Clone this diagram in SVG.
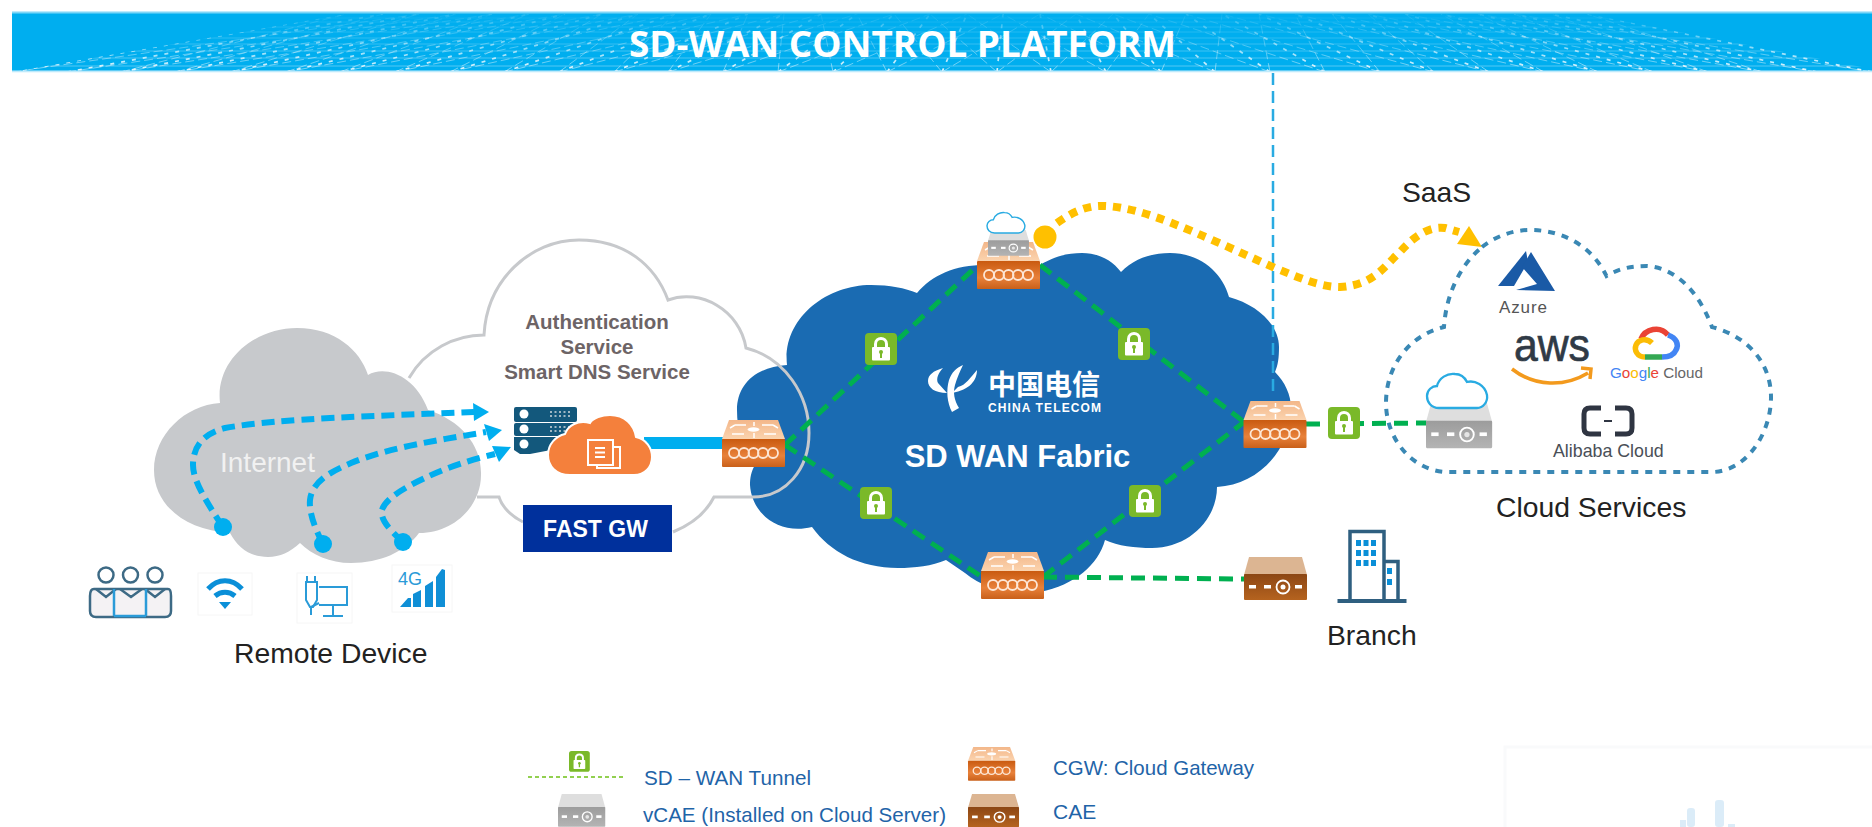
<svg xmlns="http://www.w3.org/2000/svg" width="1872" height="827" viewBox="0 0 1872 827">
<style>
.sans{font-family:"Liberation Sans",Arial,sans-serif}
.label{font-family:"Liberation Sans",Arial,sans-serif;font-size:28.300px;fill:#222}
.auth{font-family:"Liberation Sans",Arial,sans-serif;font-size:20.500px;font-weight:700;fill:#6d6466;text-anchor:middle}
.legend{font-family:"Liberation Sans",Arial,sans-serif;font-size:21px;fill:#1f64a8}
.tunnel{fill:none;stroke:#00b050;stroke-width:5;stroke-dasharray:14 8}
.remote{fill:none;stroke:#00aeef;stroke-width:6;stroke-dasharray:13 7}
.head{fill:#00aeef}
.faint{fill:#fff;stroke:#f6f6f6;stroke-width:1}
.win{fill:#0a8fd8}
</style>
<defs>
<linearGradient id="gridFade" gradientUnits="userSpaceOnUse" x1="0" y1="14" x2="0" y2="72">
<stop offset="0" stop-color="#fff" stop-opacity=".1"/><stop offset="1" stop-color="#fff" stop-opacity=".9"/>
</linearGradient>
<clipPath id="gridClip"><polygon points="12,72 346,14 1587,14 1888,72"/></clipPath>
<linearGradient id="cgwTop" x1="0" y1="0" x2="0" y2="1"><stop offset="0" stop-color="#f3b78a"/><stop offset="1" stop-color="#fbd3ae"/></linearGradient>
<linearGradient id="cgwFront" x1="0" y1="0" x2="0" y2="1"><stop offset="0" stop-color="#c95a10"/><stop offset=".6" stop-color="#e8813a"/><stop offset="1" stop-color="#c9601a"/></linearGradient>
<linearGradient id="caeFront" x1="0" y1="0" x2="0" y2="1"><stop offset="0" stop-color="#8c4715"/><stop offset="1" stop-color="#b5631f"/></linearGradient>
<linearGradient id="vcaeFront" x1="0" y1="0" x2="0" y2="1"><stop offset="0" stop-color="#9c9c9c"/><stop offset="1" stop-color="#b4b4b4"/></linearGradient>
<g id="lock">
<rect width="32" height="32" rx="4" fill="#7ab929"/>
<path d="M10.500,15V11C10.500,3.500 21.500,3.500 21.500,11V15" fill="none" stroke="#fff" stroke-width="3"/>
<rect x="7" y="14" width="18" height="13.500" rx="1" fill="#fff"/>
<circle cx="16" cy="19" r="2" fill="#7ab929"/><rect x="15" y="19" width="2" height="6" fill="#7ab929"/>
</g>
<g id="cgw">
<polygon points="7,0 56,0 63,19 0,19" fill="url(#cgwTop)"/>
<g stroke="#fff" stroke-width="1.500" fill="none">
<path d="M13,5H24M40,5H51M10,14H22M42,14H54M32,2V6M32,13V18"/>
<path d="M8,8L13,5M56,8L51,5"/>
</g>
<ellipse cx="31.500" cy="9.500" rx="6" ry="2.200" fill="#fff"/>
<rect y="19" width="63" height="28" rx="1" fill="url(#cgwFront)"/>
<g fill="none" stroke="#fde7d6" stroke-width="1.800">
<circle cx="12" cy="33" r="5"/><circle cx="22" cy="33" r="5"/><circle cx="31.500" cy="33" r="5"/><circle cx="41" cy="33" r="5"/><circle cx="51" cy="33" r="5"/>
</g>
</g>
<g id="cae">
<polygon points="5,0 58,0 63,18 0,18" fill="#dcb592"/>
<rect y="17" width="63" height="26" rx="1" fill="url(#caeFront)"/>
<g fill="#fff"><rect x="5" y="28" width="7" height="3.500"/><rect x="20" y="28" width="7" height="3.500"/><rect x="51" y="28" width="7" height="3.500"/><circle cx="39" cy="30" r="2.500"/></g>
<circle cx="39" cy="30" r="6.500" fill="none" stroke="#fff" stroke-width="1.800"/>
</g>
<g id="vcae">
<polygon points="5,0 58,0 63,18 0,18" fill="#dedede"/>
<rect y="17" width="63" height="26" rx="1" fill="url(#vcaeFront)"/>
<g fill="#fff"><rect x="5" y="28" width="7" height="3.500"/><rect x="20" y="28" width="7" height="3.500"/><rect x="51" y="28" width="7" height="3.500"/></g>
<circle cx="39" cy="30" r="6.500" fill="none" stroke="#fff" stroke-width="1.800"/>
<circle cx="39" cy="30" r="2.500" fill="#fff" fill-opacity=".7"/>
</g>
<path id="smallCloud" d="M12,35C4,35 0,29 0,23C0,17 5,13 10,13C12,5 20,0 28,1C34,1 38,5 40,9C48,7 58,12 60,22C61,29 56,35 50,35Z" fill="#fff" stroke="#29abe2" stroke-width="2.300"/>
</defs>

<g id="header">
<rect x="12" y="12" width="1860" height="60" fill="#00aeef"/>
<rect x="12" y="11.500" width="1860" height="2" fill="#7fd6f7"/>
<g clip-path="url(#gridClip)" fill="none" stroke="url(#gridFade)">
<path stroke-width="1.700" stroke-dasharray="4 7" d="M12,72L346,14M67,72L383,14M121,72L419,14M176,72L456,14M231,72L492,14M286,72L529,14M340,72L565,14M395,72L602,14M450,72L638,14M504,72L675,14M559,72L711,14M614,72L748,14M668,72L784,14M723,72L821,14M778,72L857,14M833,72L894,14M887,72L930,14M942,72L967,14M997,72L1003,14M1051,72L1040,14M1106,72L1076,14M1161,72L1113,14M1215,72L1149,14M1270,72L1186,14M1325,72L1222,14M1380,72L1259,14M1434,72L1295,14M1489,72L1332,14M1544,72L1368,14M1598,72L1405,14M1653,72L1441,14M1708,72L1478,14M1762,72L1514,14M1817,72L1551,14M1872,72L1587,14"/>
<path stroke-width="1" stroke-opacity=".55" stroke-dasharray="9 4" d="M12,72L419,14M67,72L456,14M121,72L492,14M176,72L529,14M231,72L565,14M286,72L602,14M340,72L638,14M395,72L675,14M450,72L711,14M504,72L748,14M559,72L784,14M614,72L821,14M668,72L857,14M723,72L894,14M778,72L930,14M833,72L967,14M887,72L1003,14M942,72L1040,14M997,72L1076,14M1051,72L1113,14M1106,72L1149,14M1161,72L1186,14M1215,72L1222,14M1270,72L1259,14M1325,72L1295,14M1380,72L1332,14M1434,72L1368,14M1489,72L1405,14M1544,72L1441,14M1598,72L1478,14M1653,72L1514,14M1708,72L1551,14M1762,72L1587,14"/>
<path stroke-width="1" stroke-opacity=".55" stroke-dasharray="9 4" d="M121,72L346,14M176,72L383,14M231,72L419,14M286,72L456,14M340,72L492,14M395,72L529,14M450,72L565,14M504,72L602,14M559,72L638,14M614,72L675,14M668,72L711,14M723,72L748,14M778,72L784,14M833,72L821,14M887,72L857,14M942,72L894,14M997,72L930,14M1051,72L967,14M1106,72L1003,14M1161,72L1040,14M1215,72L1076,14M1270,72L1113,14M1325,72L1149,14M1380,72L1186,14M1434,72L1222,14M1489,72L1259,14M1544,72L1295,14M1598,72L1332,14M1653,72L1368,14M1708,72L1405,14M1762,72L1441,14M1817,72L1478,14M1872,72L1514,14"/>
<path stroke-width="1" stroke-opacity=".4" d="M0,66H1872M0,58H1872M0,51H1872M0,44H1872M0,38H1872M0,32H1872M0,27H1872M0,22H1872M0,18H1872"/>
</g>
<rect x="12" y="70.500" width="1860" height="1.800" fill="#bfeafb"/>
<text x="629" y="57" font-family="'Open Sans','Noto Sans',sans-serif" font-size="35" font-weight="700" fill="#fff" textLength="547" lengthAdjust="spacingAndGlyphs">SD-WAN CONTROL PLATFORM</text>
</g>

<g id="fabric-cloud">
<path d="M917,293C932,275 955,265 985,265L1040,265C1055,256 1068,253 1082,253C1098,253 1112,260 1121,272C1135,258 1152,253 1170,253C1200,253 1222,272 1229,297C1258,305 1279,325 1279,347C1279,358 1278,365 1275,372C1285,382 1291,395 1291,408C1291,450 1258,485 1217,487C1217,520 1188,548 1152,548C1135,548 1118,546 1105,540C1098,565 1075,585 1040,592C1015,595 985,590 965,573L946,560C932,566 915,568 898,568C860,568 830,552 812,527C780,535 752,515 750,485C750,478 751,472 755,465C742,450 737,430 737,410C737,385 755,367 787,365C782,320 825,285 871,285C890,285 905,288 917,293Z" fill="#1a6bb2"/>
<g id="telecom-mark" fill="#fff">
<path d="M943,368C933,371 928,375 928,381C928,388 935,393 947,393L938,383C936,379 938,373 943,368Z"/>
<path d="M977,370C977,380 970,390 952,393L958,387C966,385 970,378 977,370Z"/>
<path d="M963,365C956,368 952,372 949,380C946,390 947,403 952,412L959,408C954,400 953,392 955,385C957,378 960,371 963,365Z"/>
</g>
<text x="988" y="395" font-family="'Noto Sans CJK SC',sans-serif" font-size="28" font-weight="700" fill="#fff" textLength="112" lengthAdjust="spacing">中国电信</text>
<text x="988" y="412" class="sans" font-size="12" font-weight="700" fill="#fff" textLength="113" lengthAdjust="spacing">CHINA TELECOM</text>
<text x="1017.500" y="467" class="sans" font-size="31" font-weight="700" fill="#fff" text-anchor="middle">SD WAN Fabric</text>
</g>

<g id="internet-cloud">
<path d="M220,403C215,360 255,328 297,328C335,328 360,350 368,375C385,365 415,375 428,410C460,420 482,445 481,475C481,505 455,533 419,533C405,552 380,563 351,563C330,563 312,555 300,543C290,552 280,557 268,557C250,557 238,548 230,533C185,530 154,505 154,470C154,435 185,405 220,403Z" fill="#c7c9cc"/>
<text x="220" y="472" class="sans" font-size="28" fill="#f1f1f1">Internet</text>
</g>

<g id="fast-gw-cloud">
<path d="M409,378C425,350 455,335 484,335C487,280 530,240 579,240C625,240 655,265 668,300C700,288 740,310 746,348C785,358 809,395 809,433C809,470 785,497 753,497L714,497C705,515 690,525 673,532M523,522C510,515 502,507 499,497L477,497" fill="none" stroke="#c7c9cc" stroke-width="3"/>
<text x="597" y="329" class="auth">Authentication</text>
<text x="597" y="354" class="auth">Service</text>
<text x="597" y="379" class="auth">Smart DNS Service</text>
<rect x="523" y="505" width="149" height="47" fill="#00309c"/>
<text x="595.500" y="537" class="sans" font-size="23" font-weight="700" fill="#fff" text-anchor="middle">FAST GW</text>
</g>

<g id="connectors">
<rect x="644" y="437" width="80" height="12" fill="#00aeef"/>
<path d="M1273,73V393" fill="none" stroke="#29abe2" stroke-width="2.500" stroke-dasharray="12 6"/>
<path class="tunnel" d="M785,445L978,265"/>
<path class="tunnel" d="M1040,265L1244,422"/>
<path class="tunnel" d="M785,445L982,577"/>
<path class="tunnel" d="M1043,577L1244,422"/>
<path class="tunnel" d="M1043,577L1244,579"/>
<path class="tunnel" d="M1306,424L1427,423"/>
<path class="remote" d="M223,527C205,500 193,480 193,465C193,445 205,433 225,428C280,418 380,416 474,412"/>
<polygon class="head" points="489,412 473,403 474,421"/>
<circle class="head" cx="223" cy="527" r="9"/>
<path class="remote" d="M323,544C313,525 309,510 310,500C312,480 335,470 351,463C390,447 440,440 486,432"/>
<polygon class="head" points="502,430 484,424 489,441"/>
<circle class="head" cx="323" cy="544" r="9"/>
<path class="remote" d="M403,542C390,530 380,520 382,510C386,497 410,485 425,478C445,468 470,460 495,454"/>
<polygon class="head" points="511,447 492,446 499,462"/>
<circle class="head" cx="403" cy="542" r="9"/>
<circle cx="1045" cy="237" r="11.500" fill="#ffc000"/>
<path d="M1057,223C1075,210 1090,205 1105,206C1145,208 1190,230 1275,268C1300,278 1320,287 1340,287C1375,285 1385,265 1400,252C1415,235 1430,226 1445,228L1459,232" fill="none" stroke="#ffc000" stroke-width="8" stroke-dasharray="8 7"/>
<polygon points="1469,226 1482,247 1457,244" fill="#ffc000"/>
</g>

<g id="fast-gw">
<g fill="#13587c">
<rect x="514" y="407" width="63" height="15" rx="2"/><rect x="514" y="423" width="63" height="13" rx="2"/>
<path d="M514,437H577V445L530,454H520L514,450Z"/>
</g>
<g fill="#fff"><circle cx="524" cy="414" r="4.500"/><circle cx="524" cy="429" r="4.500"/><circle cx="524" cy="444" r="4.500"/></g>
<path d="M550,412H572M550,416H572M550,427H572M550,431H572" stroke="#cfd8dc" stroke-width="1.500" stroke-dasharray="2 2.500"/>
<path d="M570,475C556,475 548,466 548,455C548,444 556,436 565,434C568,425 578,420 590,423C593,418 602,415 610,415C625,415 634,425 636,437C646,439 652,448 652,457C652,467 645,475 634,475Z" fill="#f4803c" stroke="#fff" stroke-width="2"/>
<path d="M595,447H620V468H597V465" fill="none" stroke="#fff" stroke-width="2"/>
<rect x="588" y="440" width="25" height="25" fill="#f4803c" stroke="#fff" stroke-width="2"/>
<path d="M595,448H605M595,452.500H605M595,457H605" stroke="#fff" stroke-width="2"/>
</g>

<use id="cgw-left" href="#cgw" x="722" y="420"/>
<g id="cgw-top"><use href="#cgw" x="977" y="242"/></g>
<g id="vcae-top">
<use href="#vcae" transform="translate(988,230) scale(.65,.6)"/>
<use href="#smallCloud" transform="translate(987,212) scale(.63,.6)"/>
</g>
<use id="cgw-right" href="#cgw" x="1243.500" y="401"/>
<use id="cgw-bottom" href="#cgw" x="981" y="552"/>
<use id="cae-branch" href="#cae" x="1244" y="557"/>

<g id="locks">
<use href="#lock" x="865" y="333"/>
<use href="#lock" x="1118" y="328"/>
<use href="#lock" x="860" y="487"/>
<use href="#lock" x="1129" y="485"/>
<use href="#lock" x="1328" y="407"/>
</g>

<g id="branch">
<path d="M1350,600V531.500H1384V600M1384,561.500H1398V600" fill="#fff" stroke="#2f5f80" stroke-width="3.500"/>
<rect x="1337.500" y="599" width="69" height="4" fill="#2f5f80"/>
<g class="win">
<rect x="1356" y="540" width="5" height="6"/><rect x="1363.500" y="540" width="5" height="6"/><rect x="1371" y="540" width="5" height="6"/>
<rect x="1356" y="550" width="5" height="6"/><rect x="1363.500" y="550" width="5" height="6"/><rect x="1371" y="550" width="5" height="6"/>
<rect x="1356" y="560" width="5" height="6"/><rect x="1363.500" y="560" width="5" height="6"/><rect x="1371" y="560" width="5" height="6"/>
<rect x="1387" y="568" width="5" height="6"/><rect x="1387" y="579" width="5" height="6"/>
</g>
<text x="1327" y="645" class="label">Branch</text>
</g>

<g id="cloud-services">
<path d="M1482,247C1497,235 1515,230 1530,230C1565,230 1593,248 1606.500,276C1620,268 1632,266 1647,266C1675,268 1698,290 1712,327C1750,337 1771,365 1771,397C1771,435 1745,472 1712,472L1446,472C1410,470 1386,437 1386,403C1386,365 1410,335 1444,327C1446,295 1460,265 1482,247Z" fill="none" stroke="#3a88b4" stroke-width="4" stroke-dasharray="7 7"/>
<g id="vcae-cloud">
<use href="#vcae" transform="translate(1426,403) scale(1.05)"/>
<use href="#smallCloud" x="1427" y="373"/>
</g>
<g id="azure">
<path d="M1526,251L1498,286L1514,286L1528,262Z" fill="#1a5aa6"/>
<path d="M1531,252L1555,291L1516,290L1537,284L1522,267Z" fill="#1a5aa6"/>
<text x="1499" y="313" class="sans" font-size="17" fill="#555" textLength="48" lengthAdjust="spacing">Azure</text>
</g>
<g id="aws">
<text x="1514" y="361" class="sans" font-size="47" fill="#2f3a46" stroke="#2f3a46" stroke-width=".7" textLength="76" lengthAdjust="spacingAndGlyphs">aws</text>
<path d="M1512,369C1535,387 1565,387 1588,373M1581,368L1591,369L1590,379" fill="none" stroke="#f39a1d" stroke-width="3.500"/>
</g>
<g id="google-cloud" fill="none" stroke-width="5.500">
<path d="M1641,339C1645,329 1660,325 1668,335" stroke="#ea4335"/>
<path d="M1668,335C1677,338 1679,345 1676,350C1674,355 1669,357 1662,357" stroke="#4285f4"/>
<path d="M1662,357L1645,357" stroke="#34a853"/>
<path d="M1645,357C1637,357 1634,350 1636,345C1638,340 1646,337 1652,343" stroke="#fbbc05"/>
<text x="1610" y="378" class="sans" font-size="15.200" stroke="none" fill="#666"><tspan fill="#4285f4">G</tspan><tspan fill="#ea4335">o</tspan><tspan fill="#fbbc05">o</tspan><tspan fill="#4285f4">g</tspan><tspan fill="#34a853">l</tspan><tspan fill="#ea4335">e</tspan> Cloud</text>
</g>
<g id="alibaba">
<path d="M1601,408H1590Q1584,408 1584,414V428Q1584,434 1590,434H1601M1615,408H1626Q1632,408 1632,414V428Q1632,434 1626,434H1615" fill="none" stroke="#2f3542" stroke-width="5"/>
<path d="M1604,421H1612" stroke="#2f3542" stroke-width="2"/>
<text x="1553" y="457" class="sans" font-size="17.800" fill="#4a4f57">Alibaba Cloud</text>
</g>
<text x="1496" y="517" class="label">Cloud Services</text>
<text x="1402" y="202" class="label">SaaS</text>
</g>

<g id="remote-devices">
<g id="people" stroke="#3d6a85" stroke-width="2.500">
<path d="M94,589H168Q171,589 171,596V611Q171,617 165,617H96Q90,617 90,611V596Q90,589 94,589Z" fill="#f4f2f4"/>
<path d="M96,589L106,597L116,589M120,589L131,597L142,589M145,589L155,597L165,589" fill="none"/>
<path d="M114,589V616M146,589V616" fill="none" stroke="#2a9bd8"/>
<path d="M114,616H146" stroke="#2a9bd8"/>
<circle cx="106" cy="575" r="7.500" fill="#fff"/><circle cx="130.500" cy="575" r="7.500" fill="#fff"/><circle cx="155" cy="575" r="7.500" fill="#fff"/>
</g>
<g id="wifi">
<rect class="faint" x="198" y="573" width="54" height="42"/>
<path d="M208,589C218,578 232,578 242,589M215,596C221,591 229,591 235,596" fill="none" stroke="#0a8fd8" stroke-width="5"/>
<polygon points="219,602 231,602 225,609" fill="#0a8fd8"/>
</g>
<g id="pc">
<rect class="faint" x="297" y="573" width="55" height="50"/>
<path d="M319,587H347V605H319M333,605V616M323,616H343" fill="none" stroke="#2a9bd8" stroke-width="2"/>
<path d="M307,576V582M315,576V582M306,582H317V600L313,607H310L306,600ZM311,607V615" fill="none" stroke="#2a9bd8" stroke-width="2"/>
<path d="M311,607L319,603" stroke="#2a9bd8" stroke-width="2"/>
</g>
<g id="cell">
<rect class="faint" x="392" y="565" width="60" height="47"/>
<text x="398" y="585" class="sans" font-size="18" fill="#2a9bd8" textLength="24" lengthAdjust="spacing">4G</text>
<path d="M400,607L408,598H411V607ZM413,607V594L421,590V607ZM425,607V586L433,581V607ZM436,607V577L442,569L445,570V607Z" fill="#0f8fd6"/>
</g>
<text x="234" y="663" class="label">Remote Device</text>
</g>

<g id="legend">
<use href="#lock" transform="translate(569,751) scale(.65)"/>
<path d="M528,777H625" fill="none" stroke="#92d050" stroke-width="2" stroke-dasharray="4 3"/>
<text x="644" y="785" class="legend" textLength="167" lengthAdjust="spacingAndGlyphs">SD – WAN Tunnel</text>
<use href="#vcae" transform="translate(558,794) scale(.75,.76)"/>
<text x="643" y="822" class="legend" textLength="303" lengthAdjust="spacingAndGlyphs">vCAE (Installed on Cloud Server)</text>
<use href="#cgw" transform="translate(968,747) scale(.75,.72)"/>
<text x="1053" y="775" class="legend" textLength="201" lengthAdjust="spacingAndGlyphs">CGW: Cloud Gateway</text>
<use href="#cae" transform="translate(968,794) scale(.81,.77)"/>
<text x="1053" y="819" class="legend">CAE</text>
</g>

<g id="watermark">
<path d="M1872,747H1505V827" fill="none" stroke="#f9fafb" stroke-width="3"/>
<g fill="#cfe6f5" fill-opacity=".75">
<rect x="1680" y="820" width="6" height="7"/>
<rect x="1687" y="808" width="8" height="19" rx="3"/>
<rect x="1715" y="800" width="9" height="27" rx="3"/>
<rect x="1728" y="824" width="7" height="3"/>
</g>
</g>
</svg>
